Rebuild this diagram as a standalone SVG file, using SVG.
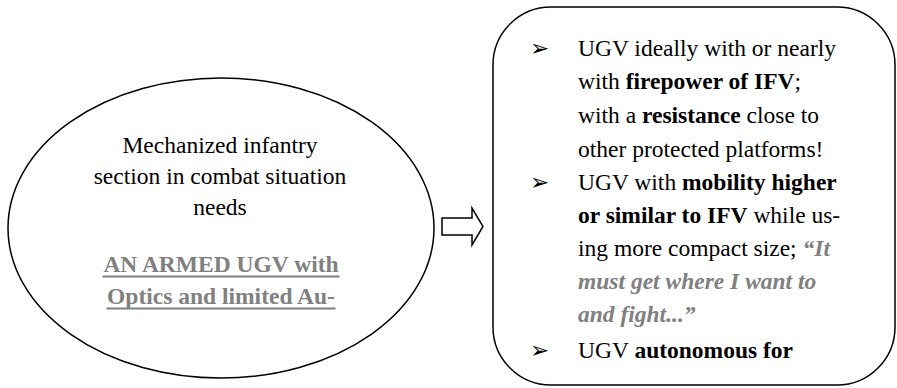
<svg xmlns="http://www.w3.org/2000/svg" width="897" height="388" viewBox="0 0 897 388">
  <style>
    text { font-family: 'Liberation Serif', 'Times New Roman', Times, 'DejaVu Serif', serif; font-size: 23.5px; fill: #000; }
    .c { text-anchor: middle; }
    .b { font-weight: bold; }
    .g { fill: #808080; }
    .gi { fill: #808080; font-weight: bold; font-style: italic; }
    text.bul { font-family: 'DejaVu Sans', sans-serif; font-size: 23px; }
    .shape { fill: #fff; stroke: #000; stroke-width: 1.5; }
    .ul { stroke: #808080; stroke-width: 1.8; }
  </style>

  <!-- left node: the infantry section and its need -->
  <g id="need">
    <ellipse class="shape" cx="221" cy="228" rx="213" ry="150"/>
    <text class="c" x="220" y="153">Mechanized infantry</text>
    <text class="c" x="220" y="184">section in combat situation</text>
    <text class="c" x="220" y="215">needs</text>
    <text class="c b g" x="221" y="272">AN ARMED UGV with</text>
    <text class="c b g" x="221" y="304">Optics and limited Au-</text>
    <line class="ul" x1="102.5" y1="276.5" x2="339.5" y2="276.5"/>
    <line class="ul" x1="106.5" y1="308.5" x2="335.5" y2="308.5"/>
  </g>

  <!-- connector: hollow block arrow -->
  <g id="connectors">
    <polygon class="shape" stroke-width="1.3" points="442,218 472,218 472,208 483,226.5 472,245 472,235 442,235"/>
  </g>

  <!-- right node: requirements list -->
  <g id="requirements">
    <rect class="shape" x="493" y="7" width="402" height="378" rx="58" ry="58"/>
    <text class="bul" x="530" y="56">➢</text>
    <text class="bul" x="530" y="190">➢</text>
    <text class="bul" x="530" y="358">➢</text>
    <text x="578" y="56">UGV ideally with or nearly</text>
    <text x="578" y="89">with <tspan class="b">firepower of IFV</tspan>;</text>
    <text x="578" y="123">with a <tspan class="b">resistance</tspan> close to</text>
    <text x="578" y="157">other protected platforms!</text>
    <text x="578" y="190">UGV with <tspan class="b">mobility higher</tspan></text>
    <text x="578" y="223"><tspan class="b">or similar to IFV</tspan> while us-</text>
    <text x="578" y="256">ing more compact size; <tspan class="gi">“It</tspan></text>
    <text class="gi" x="578" y="289">must get where I want to</text>
    <text class="gi" x="578" y="322">and fight...”</text>
    <text x="578" y="358">UGV <tspan class="b">autonomous for</tspan></text>
  </g>
</svg>
